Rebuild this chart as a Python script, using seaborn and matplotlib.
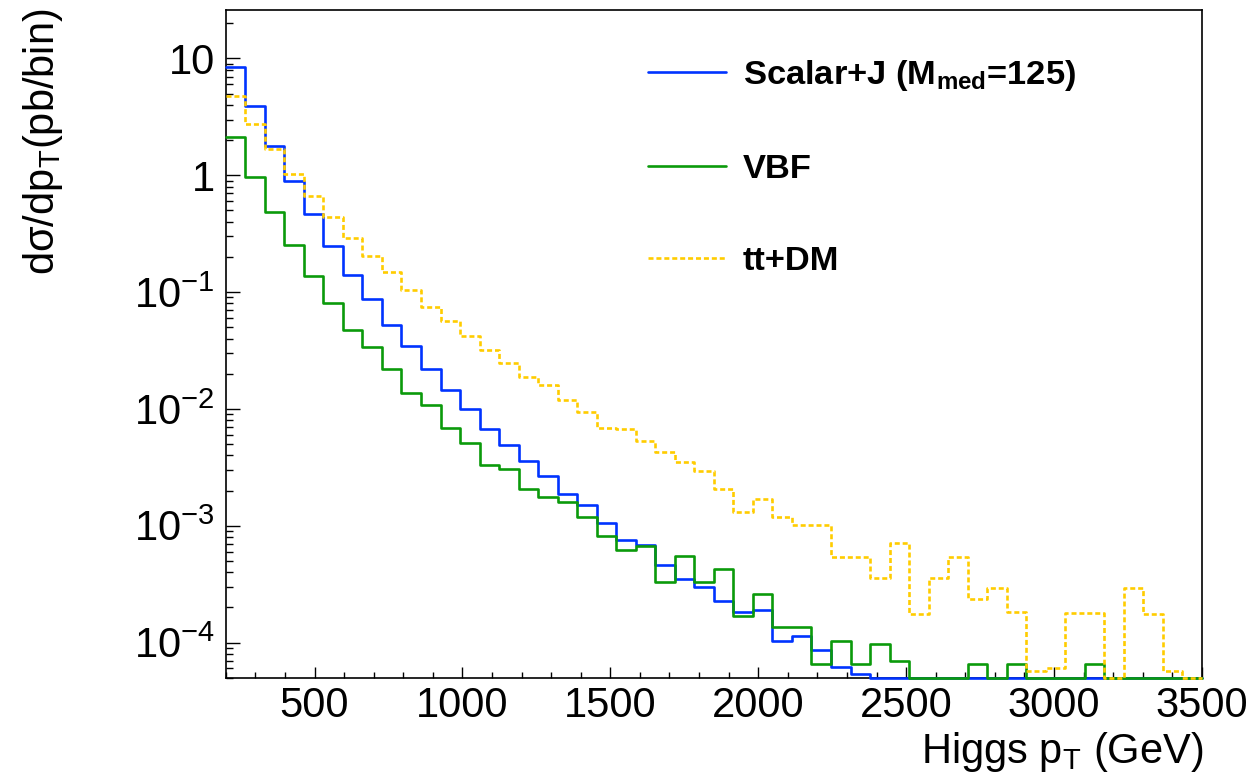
import numpy as np
import pandas as pd
import matplotlib
matplotlib.use("Agg")
import matplotlib.pyplot as plt
from matplotlib.ticker import MultipleLocator, LogLocator, NullFormatter, FuncFormatter
import seaborn as sns

# 50 bins of Higgs pT between 200 and 3500 GeV
edges = list(np.linspace(200, 3500, 51))

scalar_j = [8.5, 3.9, 1.79, 0.89, 0.47, 0.25, 0.141, 0.088, 0.0524, 0.0348,
            0.0221, 0.0145, 0.0100, 0.00667, 0.0049, 0.00357, 0.00265, 0.00188, 0.00149, 0.00105,
            0.00075, 0.00069, 0.000457, 0.000347, 0.000298, 0.000225, 0.000182, 0.000188, 0.000103, 0.000113,
            8.7e-5, 6.2e-5, 5.4e-5, 0, 0, 0, 0, 0, 0, 0,
            0, 0, 0, 0, 0, 0, 0, 0, 0, 0]

vbf = [2.13, 0.97, 0.488, 0.252, 0.138, 0.0807, 0.0474, 0.0337, 0.0218, 0.0138,
       0.0108, 0.0068, 0.00506, 0.0033, 0.00306, 0.00208, 0.00176, 0.00159, 0.00119, 0.00082,
       0.00062, 0.000665, 0.000329, 0.000547, 0.000329, 0.000428, 0.000168, 0.000262, 0.000135, 0.000135,
       6.5e-5, 0.000104, 6.6e-5, 9.75e-5, 7.0e-5, 0, 0, 0, 6.6e-5, 0,
       6.6e-5, 0, 0, 0, 6.6e-5, 0, 0, 0, 0, 0]

ttdm = [4.75, 2.77, 1.69, 1.03, 0.668, 0.441, 0.292, 0.204, 0.148, 0.104,
        0.074, 0.0566, 0.0421, 0.0317, 0.0245, 0.0186, 0.016, 0.0119, 0.00933, 0.00689,
        0.00671, 0.00526, 0.00428, 0.00352, 0.00294, 0.00208, 0.00131, 0.00168, 0.00119, 0.00101,
        0.00101, 0.000536, 0.000536, 0.000354, 0.000716, 0.000176, 0.000354, 0.000536, 0.000235, 0.000292,
        0.000181, 5.75e-5, 6.07e-5, 0.00018, 0.00018, 0, 0.000292, 0.000176, 5.75e-5, 0]

names = ["Scalar+J ($\\mathbf{M}_{\\mathbf{med}}$=125)", "VBF", "tt+DM"]
colors = ["#0033ff", "#0b9a0b", "#ffcc00"]
styles = ["-", "-", (0, (1.9, 1.1))]

y_min, y_max = 5e-5, 26.0

sns.set_style("ticks")
plt.rcParams['font.family'] = ['Liberation Sans', 'DejaVu Sans']
plt.rcParams['mathtext.fontset'] = 'custom'
plt.rcParams['mathtext.rm'] = 'Liberation Sans'
plt.rcParams['mathtext.it'] = 'Liberation Sans:italic'
plt.rcParams['mathtext.bf'] = 'Liberation Sans:bold'
plt.rcParams['text.color'] = 'black'
plt.rcParams['xtick.color'] = 'black'
plt.rcParams['ytick.color'] = 'black'
plt.rcParams['axes.labelcolor'] = 'black'

fig = plt.figure(figsize=(12.57, 7.76), dpi=100)
ax = fig.add_axes([0.1796, 0.1267, 0.7766, 0.8604])

centers = [0.5 * (a + b) for a, b in zip(edges[:-1], edges[1:])]
for vals, col, ls in zip([scalar_j, vbf, ttdm], colors, styles):
    # empty bins sit on the frame, like ROOT draws them
    df = pd.DataFrame({"pt": centers, "xsec": np.clip(np.array(vals, dtype=float), y_min, None)})
    sns.histplot(data=df, x="pt", weights="xsec", bins=edges, element="step", fill=False,
                 color=col, linestyle=ls, linewidth=1.9, ax=ax)

for ln in ax.get_lines():
    ln.set_clip_on(False)

ax.set_yscale("log")
ax.set_xlim(200, 3500)
ax.set_ylim(y_min, y_max)
ax.set_xlabel("")
ax.set_ylabel("")

ax.xaxis.set_major_locator(MultipleLocator(500))
ax.xaxis.set_minor_locator(MultipleLocator(100))
ax.yaxis.set_major_locator(LogLocator(base=10))
ax.yaxis.set_minor_locator(LogLocator(base=10, subs=np.arange(2, 10)))
ax.yaxis.set_minor_formatter(NullFormatter())


def ylab(v, pos):
    e = int(round(np.log10(v)))
    if e == 0:
        return "1"
    if e == 1:
        return "10"
    return "$10^{%d}$" % e


ax.yaxis.set_major_formatter(FuncFormatter(ylab))
ax.tick_params(axis="both", which="both", direction="in", top=False, right=False,
               labelsize=30, color="black", width=1)
ax.tick_params(axis="y", which="major", length=10, pad=8)
ax.tick_params(axis="y", which="minor", length=5)
ax.tick_params(axis="x", which="major", length=8, pad=6)
ax.tick_params(axis="x", which="minor", length=4.3)
for sp in ax.spines.values():
    sp.set_color("black")
    sp.set_linewidth(1.2)
    sp.set_zorder(1)

fig.text(1203 / 1257, 1 - 763 / 776, "Higgs p$_{\\mathrm{T}}$ (GeV)", fontsize=30,
         ha="right", va="baseline")
fig.text(43 / 1257, 1 - 8 / 776, "d\u03c3/dp$_{\\mathrm{T}}$(pb/bin)", fontsize=30,
         rotation=90, ha="center", va="top")

ax.legend(ax.get_lines(), names, loc="upper left", bbox_to_anchor=(0.4326, 0.928),
          frameon=False, prop={"weight": "bold", "size": 24.8}, handlelength=2.25,
          handletextpad=0.5, labelspacing=1.77, borderpad=0, borderaxespad=0)

fig.savefig("out.png", dpi=100)
